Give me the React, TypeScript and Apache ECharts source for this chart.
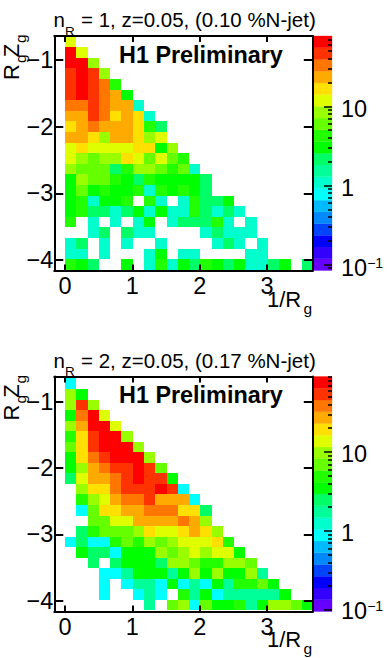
import React, { useEffect, useRef } from "react";
import * as echarts from "echarts";

const FONT = "Liberation Sans";

const rowsTop: number[][] = [
  [12],
  [67, 12],
  [67, 67, 8.8],
  [48, 67, 48, 8.8],
  [48, 67, 48, 34, 4.5],
  [48, 67, 48, 34, 24, 3.2],
  [34, 34, 48, 34, 24, 24, 1.15],
  [24, 24, 48, 34, 17, 24, 17, 1.15],
  [17, 24, 34, 24, 24, 24, 17, 4.5, 2.3],
  [24, 24, 17, 8.8, 24, 24, 17, 8.8, 12],
  [12, 17, 12, 12, 12, 12, 17, 17, 3.2, 8.8],
  [12, 8.8, 6.2, 8.8, 8.8, 17, 12, 6.2, 12, 6.2, 4.5],
  [8.8, 6.2, 6.2, 6.2, 2.3, 4.5, 8.8, 8.8, 6.2, 4.5, 6.2, 1.15],
  [3.2, 8.8, 6.2, 6.2, 4.5, 3.2, 2.3, 4.5, 3.2, 3.2, 3.2, 3.2, 2.3],
  [3.2, 6.2, 3.2, 4.5, 3.2, 3.2, 4.5, 1.15, 4.5, 3.2, 4.5, 3.2, 2.3],
  [3.2, 4.5, 1.15, 3.2, 3.2, 4.5, 0, 4.5, 1.15, 0, 1.15, 4.5, 2.3, 2.3, 3.2],
  [3.2, 4.5, 2.3, 2.3, 1.15, 2.3, 3.2, 1.15, 3.2, 1.15, 1.15, 4.5, 2.3, 1.15, 2.3, 1.15],
  [4.5, 0, 1.15, 0, 1.15, 0, 1.15, 3.2, 0, 1.15, 2.3, 2.3, 2.3, 4.5, 1.15, 0, 1.15],
  [0, 0, 1.15, 2.3, 0, 2.3, 1.15, 1.15, 0, 0, 0, 0, 1.15, 2.3, 1.15, 1.15, 1.15],
  [1.15, 2.3, 0, 1.15, 0, 1.15, 0, 0, 1.15, 0, 0, 0, 0, 1.15, 2.3, 1.15, 0, 1.15],
  [1.15, 1.15, 0, 1.15, 0, 0, 0, 1.15, 3.2, 0, 1.15, 1.15, 0, 0, 0, 0, 1.15, 1.15],
  [4.5, 3.2, 2.3, 0, 0, 3.2, 0, 1.15, 4.5, 1.15, 3.2, 2.3, 4.5, 3.2, 2.3, 3.2, 1.15, 1.15, 2.3, 3.2, 0, 2.3],
];

const rowsBottom: number[][] = [
  [0.88],
  [9.6, 3.47],
  [9.6, 53, 9.6],
  [3.47, 37.6, 74.5, 13.5],
  [9.6, 26.8, 74.5, 74.5, 13.5],
  [4.88, 19, 53, 74.5, 74.5, 9.6],
  [6.85, 19, 53, 74.5, 74.5, 74.5, 9.6],
  [3.47, 19, 37.6, 53, 74.5, 74.5, 74.5, 9.6],
  [3.47, 9.6, 26.8, 37.6, 53, 53, 74.5, 53, 6.85],
  [2.47, 13.5, 26.8, 26.8, 37.6, 53, 74.5, 53, 53, 3.47],
  [0, 9.6, 19, 19, 37.6, 53, 53, 53, 74.5, 53, 0.88],
  [0, 4.88, 9.6, 13.5, 26.8, 37.6, 37.6, 53, 26.8, 26.8, 26.8, 0.88],
  [0, 0.88, 6.85, 19, 19, 26.8, 26.8, 37.6, 37.6, 37.6, 19, 19, 2.47],
  [0, 0, 6.85, 6.85, 13.5, 13.5, 26.8, 26.8, 26.8, 26.8, 37.6, 26.8, 9.6],
  [0, 2.47, 4.88, 6.85, 6.85, 6.85, 9.6, 19, 13.5, 13.5, 19, 26.8, 19, 9.6],
  [0.88, 2.47, 0.88, 0.88, 4.88, 6.85, 4.88, 9.6, 6.85, 9.6, 13.5, 13.5, 13.5, 19, 4.88],
  [0, 3.47, 2.47, 2.47, 0.88, 3.47, 3.47, 3.47, 9.6, 6.85, 9.6, 13.5, 9.6, 13.5, 13.5, 3.47],
  [0, 0, 2.47, 0, 2.47, 3.47, 3.47, 3.47, 2.47, 9.6, 9.6, 6.85, 4.88, 4.88, 9.6, 9.6, 6.85],
  [0, 0, 0, 0.88, 0.88, 1.76, 3.47, 3.47, 3.47, 1.76, 3.47, 9.6, 3.47, 9.6, 3.47, 3.47, 9.6, 1.76],
  [0, 0, 0, 0.88, 0, 0.88, 1.76, 1.76, 0.88, 3.47, 0.88, 1.76, 0.88, 3.47, 1.76, 4.88, 4.88, 6.85, 3.47],
  [0, 0, 0, 0.88, 0, 0, 0.88, 1.76, 0.88, 0, 4.88, 1.76, 3.47, 0.88, 1.76, 1.76, 1.76, 1.76, 1.76, 3.47],
  [0, 0, 0, 0, 0, 0, 0, 1.76, 0, 6.85, 9.6, 0.88, 6.85, 3.47, 3.47, 4.88, 1.76, 3.47, 9.6, 9.6, 6.85, 3.47],
];

const palette = [
  "#6600ff", "#3300ff", "#0000ff", "#0044ff", "#0088ff", "#00bbff", "#00ffff", "#00ffcc", "#00ff99", "#00ff66",
  "#00ff00", "#22ff00", "#66ff00", "#99ff00", "#dfff00", "#ffe000", "#ffaa00", "#ff7700", "#ff3300", "#ff0000",
];

const xTicks = [0, 1, 2, 3];
const yTicks = [-1, -2, -3, -4];
const zMajor = [-1, 0, 1];
const zMinorFactors = [2, 3, 4, 5, 6, 7, 8, 9];
const zDecades = [-2, -1, 0, 1];

const xStart = 0;
const xBin = 0.1675;
const yStart = -0.65;
const yBin = 0.159;

const panels = [
  { rows: rowsTop, title: "= 1, z=0.05, (0.10 %N-jet)", top: 36, bottom: 270.5, yMax: -0.64, yMin: -4.157, logMin: -1.075, logMax: 1.889, zPad: 6 },
  { rows: rowsBottom, title: "= 2, z=0.05, (0.17 %N-jet)", top: 376.5, bottom: 611.5, yMax: -0.62, yMin: -4.164, logMin: -1.019, logMax: 1.956, zPad: 3 },
];

const GRID_L = 54.3;
const GRID_W = 258.5;
const PAL_L = 312.8;
const PAL_W = 19.2;

function cellData(rows: number[][]) {
  const out: number[][] = [];
  rows.forEach((row, r) =>
    row.forEach((z, c) => {
      if (z > 0) out.push([xStart + c * xBin, yStart - r * yBin, xStart + (c + 1) * xBin, yStart - (r + 1) * yBin, z]);
    }),
  );
  return out;
}

export default function App() {
  const ref = useRef<HTMLDivElement>(null);
  useEffect(() => {
    document.body.style.margin = "0";
    const chart = echarts.init(ref.current!, undefined, { renderer: "svg" });

    const grid: any[] = [];
    const xAxis: any[] = [];
    const yAxis: any[] = [];
    const series: any[] = [];
    const graphic: any[] = [];

    const line = { show: true, onZero: false, lineStyle: { color: "#000", width: 2 } };
    const labelBase = { fontFamily: FONT, fontSize: 23.5, color: "#000" };

    panels.forEach((p, i) => {
      const h = p.bottom - p.top;
      const g0 = i * 2;
      const g1 = i * 2 + 1;
      grid.push({ left: GRID_L, top: p.top, width: GRID_W, height: h });
      grid.push({ left: PAL_L, top: p.top, width: PAL_W, height: h });

      const x0 = xAxis.length;
      const xCommon = { type: "value", gridIndex: g0, min: -0.16, max: 3.68, splitLine: { show: false }, z: 5, axisLine: line };
      xAxis.push({
        ...xCommon,
        position: "bottom",
        axisTick: { inside: true, length: 6, customValues: xTicks, lineStyle: { color: "#000", width: 2 } },
        axisLabel: { ...labelBase, margin: 3, customValues: xTicks, formatter: (v: number) => String(v) },
      });
      xAxis.push({
        ...xCommon,
        position: "top",
        axisTick: { inside: true, length: 6, customValues: xTicks, lineStyle: { color: "#000", width: 2 } },
        axisLabel: { show: false },
      });
      const xp = xAxis.length;
      xAxis.push({ type: "value", gridIndex: g1, min: 0, max: 1, show: false });

      const y0 = yAxis.length;
      const yCommon = { type: "value", gridIndex: g0, min: p.yMin, max: p.yMax, splitLine: { show: false }, z: 5, axisLine: line };
      yAxis.push({
        ...yCommon,
        position: "left",
        axisTick: { inside: true, length: 9, customValues: yTicks, lineStyle: { color: "#000", width: 2 } },
        axisLabel: {
          ...labelBase,
          margin: 1,
          padding: [3, 0, 0, 0],
          customValues: yTicks,
          formatter: (v: number) => "\u2212" + Math.abs(v),
        },
      });
      yAxis.push({
        ...yCommon,
        position: "right",
        axisTick: { inside: true, length: 9, customValues: yTicks, lineStyle: { color: "#000", width: 2 } },
        axisLabel: { show: false },
      });
      const yp = yAxis.length;
      yAxis.push({
        type: "value",
        gridIndex: g1,
        min: p.logMin,
        max: p.logMax,
        position: "right",
        splitLine: { show: false },
        z: 5,
        axisLine: { show: false, onZero: false },
        axisTick: { inside: true, length: 8, customValues: zMajor, lineStyle: { color: "#000", width: 1.5 } },
        axisLabel: {
          ...labelBase,
          margin: 9,
          padding: [p.zPad, 0, 0, 0],
          customValues: zMajor,
          formatter: (v: number) => (v === -1 ? "{b|10}{s|\u22121}" : v === 0 ? "{b|1}" : "{b|10}"),
          rich: {
            b: { fontFamily: FONT, fontSize: 23.5, color: "#000" },
            s: { fontFamily: FONT, fontSize: 14, color: "#000", verticalAlign: "top", lineHeight: 24 },
          },
        },
      });
      const minorValues: number[] = [];
      zDecades.forEach((d) => zMinorFactors.forEach((f) => minorValues.push(d + Math.log10(f))));
      yAxis.push({
        type: "value",
        gridIndex: g1,
        min: p.logMin,
        max: p.logMax,
        position: "right",
        splitLine: { show: false },
        z: 5,
        axisLine: { show: false, onZero: false },
        axisTick: {
          inside: true,
          length: 4,
          customValues: minorValues.filter((v) => v > p.logMin && v < p.logMax),
          lineStyle: { color: "#000", width: 1.5 },
        },
        axisLabel: { show: false },
      });

      series.push({
        type: "custom",
        xAxisIndex: x0,
        yAxisIndex: y0,
        coordinateSystem: "cartesian2d",
        silent: true,
        z: 2,
        encode: { x: [0, 2], y: [1, 3] },
        data: cellData(p.rows),
        renderItem: (_: any, api: any) => {
          const a = api.coord([api.value(0), api.value(1)]);
          const b = api.coord([api.value(2), api.value(3)]);
          const lz = Math.log10(api.value(4));
          const k = Math.floor(((lz - p.logMin) / (p.logMax - p.logMin)) * palette.length);
          const l = Math.round(a[0]);
          const t = Math.round(a[1]);
          return {
            type: "rect",
            shape: { x: l, y: t, width: Math.round(b[0]) - l, height: Math.round(b[1]) - t },
            style: { fill: palette[Math.max(0, Math.min(palette.length - 1, k))] },
          };
        },
      });

      const bandData = palette.map((_, k) => {
        const step = (p.logMax - p.logMin) / palette.length;
        return [0, p.logMin + (k + 1) * step, 1, p.logMin + k * step, k];
      });
      series.push({
        type: "custom",
        xAxisIndex: xp,
        yAxisIndex: yp,
        coordinateSystem: "cartesian2d",
        silent: true,
        z: 2,
        encode: { x: [0, 2], y: [1, 3] },
        data: bandData,
        renderItem: (_: any, api: any) => {
          const a = api.coord([api.value(0), api.value(1)]);
          const b = api.coord([api.value(2), api.value(3)]);
          return {
            type: "rect",
            shape: { x: a[0], y: a[1], width: b[0] - a[0], height: b[1] - a[1] },
            style: { fill: palette[api.value(4)], stroke: palette[api.value(4)], lineWidth: 0.3 },
          };
        },
      });

      const T = p.top;
      const txt = (text: string, x: number, y: number, fontSize: number, extra: any = {}) => ({
        type: "text",
        x,
        y,
        silent: true,
        z: 10,
        style: { text, fontFamily: FONT, fontSize, fill: "#000", verticalAlign: "top", align: "left", ...extra },
      });
      const rot = (text: string, x: number, y: number, fontSize: number) => ({
        type: "text",
        x,
        y,
        style: { text, fontFamily: FONT, fontSize, fill: "#000", verticalAlign: "top", align: "left" },
      });
      // title
      graphic.push(txt("n", 53.5, T - 27, 20.5));
      graphic.push(txt("R", 65, T - 12, 13.5));
      graphic.push(txt(p.title, 81, T - 27, 20.5));
      // stamp
      graphic.push(txt("H1 Preliminary", 119, T + 7, 23.4, { fontWeight: "bold" }));
      // x axis title
      graphic.push(txt("1/R", 267, T + 252, 22));
      graphic.push(txt("g", 303.5, T + 264, 15.5));
      // y axis title, rotated
      graphic.push({
        type: "group",
        x: 0,
        y: T + 44,
        rotation: Math.PI / 2,
        silent: true,
        z: 10,
        children: [
          rot("R", 0, 0, 22),
          rot("g", 17, 12, 15.5),
          rot("Z", 22.7, 0, 22),
          rot("g", 37, 12, 15.5),
        ],
      });
    });

    chart.setOption({
      animation: false,
      grid,
      xAxis,
      yAxis,
      series,
      graphic: { elements: graphic },
    });
    return () => chart.dispose();
  }, []);
  return <div ref={ref} style={{ width: 387, height: 658, position: "absolute", left: 0, top: 0 }} />;
}
